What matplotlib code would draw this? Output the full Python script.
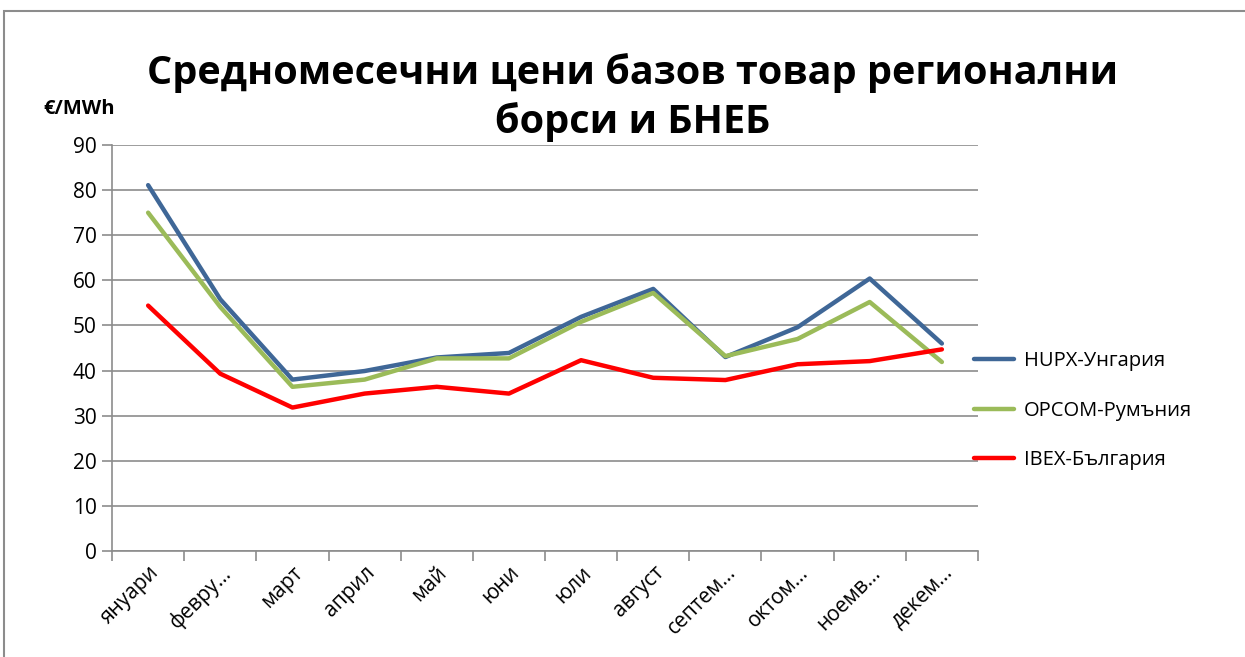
import matplotlib.pyplot as plt
import matplotlib.patches as mpatches
from matplotlib.ticker import FixedLocator, NullFormatter

plt.rcParams['font.family'] = ['Open Sans', 'DejaVu Sans']

months = ['януари', 'февру…', 'март', 'април', 'май', 'юни', 'юли',
          'август', 'септем…', 'октом…', 'ноемв…', 'декем…']
hupx = [81.1, 55.8, 38.0, 39.9, 42.9, 43.9, 51.9, 58.1, 43.0, 49.6, 60.4, 46.0]
opcom = [75.0, 54.1, 36.4, 38.0, 42.7, 42.7, 50.8, 57.2, 43.2, 47.0, 55.2, 41.9]
ibex = [54.4, 39.3, 31.8, 34.9, 36.4, 34.9, 42.3, 38.4, 37.9, 41.4, 42.1, 44.7]
series_names = ['HUPX-Унгария', 'OPCOM-Румъния', 'IBEX-България']
colors = ['#3F6797', '#9BBB59', '#FF0000']

fig = plt.figure(figsize=(12.45, 6.57), dpi=100)
ax = fig.add_axes([0.09, 0.1613, 0.6955, 0.618])

# рамка на диаграмата
fig.patches.append(mpatches.Rectangle((4 / 1245, -0.1), 1.2, 1 - 11 / 657 + 0.1,
                                      transform=fig.transFigure, fill=False,
                                      edgecolor='#8C8C8C', linewidth=1.5))

x = range(len(months))
for vals, name, c in zip([hupx, opcom, ibex], series_names, colors):
    ax.plot(x, vals, color=c, linewidth=3.2, label=name, solid_capstyle='round')

ax.set_xlim(-0.5, 11.5)
ax.set_ylim(0, 90)
ax.set_yticks(range(0, 91, 10))
ax.yaxis.grid(True, color='#8C8C8C', linewidth=1.2)
ax.set_axisbelow(True)

ax.set_xticks(list(x))
ax.set_xticklabels(months, rotation=45, ha='right', rotation_mode='anchor', fontsize=15)
ax.tick_params(axis='x', which='major', length=0, pad=8)
ax.xaxis.set_minor_locator(FixedLocator([i - 0.5 for i in range(13)]))
ax.xaxis.set_minor_formatter(NullFormatter())
ax.tick_params(axis='x', which='minor', length=7, color='#8C8C8C', width=1.2)
ax.tick_params(axis='y', length=7, color='#8C8C8C', width=1.2, labelsize=15, pad=4)

for s in ['top', 'right']:
    ax.spines[s].set_visible(False)
for s in ['left', 'bottom']:
    ax.spines[s].set_color('#8C8C8C')
    ax.spines[s].set_linewidth(1.2)

fig.text(0.508, 0.852, 'Средномесечни цени базов товар регионални\nборси и БНЕБ',
         ha='center', va='center', fontsize=28.5, fontweight='bold', linespacing=1.3)
fig.text(0.064, 0.834, '€/MWh', ha='center', va='center', fontsize=14.5, fontweight='bold')

fig.legend(loc='center left', bbox_to_anchor=(0.782, 0.375), frameon=False,
           fontsize=14.5, handlelength=2.0, labelspacing=1.45, handletextpad=0.5,
           borderaxespad=0, borderpad=0)

fig.savefig('out.png', dpi=100)
